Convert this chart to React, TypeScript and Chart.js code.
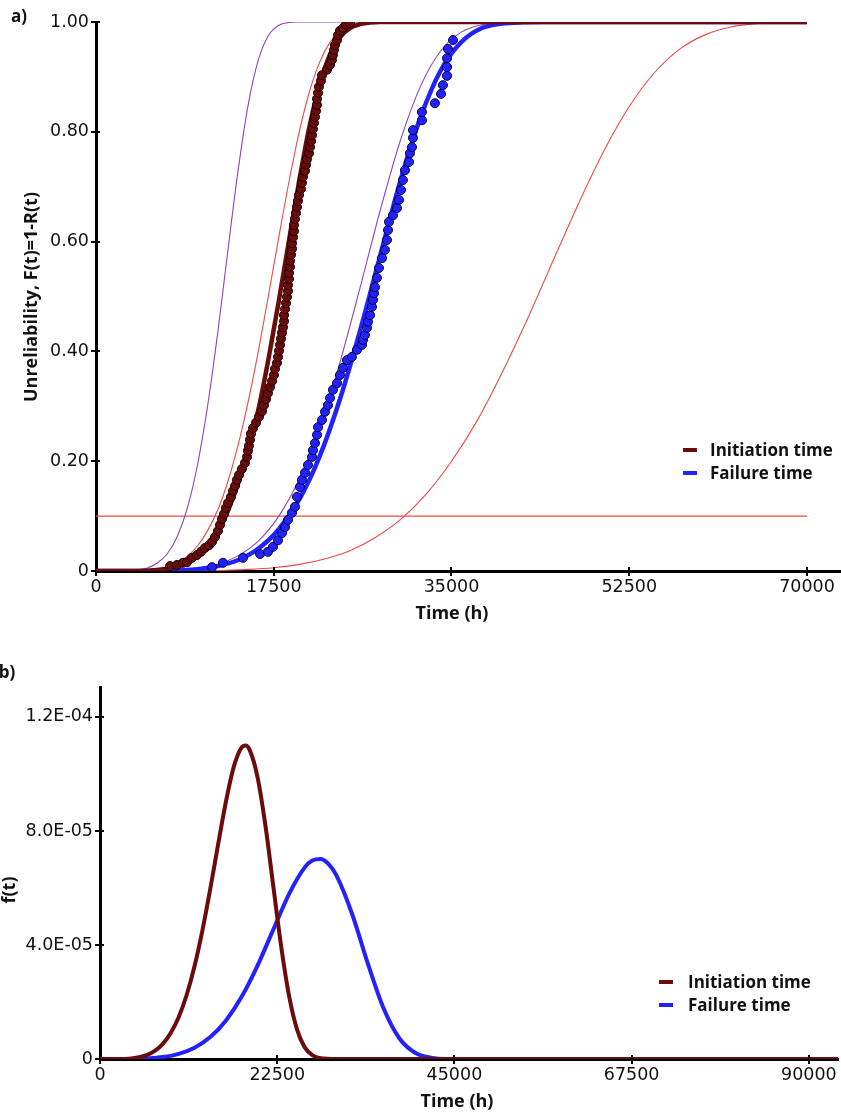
import React, { useEffect, useRef } from 'react';
import { Chart, registerables } from 'chart.js';

Chart.register(...registerables);

// ---------- Panel a) : unreliability F(t) ----------
const topXTicks = [0, 17500, 35000, 52500, 70000];
const topXTickLabels = ['0', '17500', '35000', '52500', '70000'];
const topYTicks = [0, 0.2, 0.4, 0.6, 0.8, 1.0];
const topYTickLabels = ['0', '0.20', '0.40', '0.60', '0.80', '1.00'];

// Initiation time — observed points
const initPtsT = [7290, 7970, 8570, 8960, 9450, 9940, 10340, 10730, 11130, 11420, 11720, 12010, 12210, 12410, 12600, 12800, 13000, 13290, 13490, 13690, 13880, 14080, 14370, 14670, 14870, 14960, 15060, 15160, 15260, 15460, 15750, 16050, 16340, 16540, 16740, 16930, 17130, 17330, 17520, 17620, 17820, 17920, 18020, 18120, 18210, 18310, 18410, 18510, 18510, 18610, 18710, 18800, 18900, 18900, 19000, 19000, 19100, 19100, 19200, 19300, 19300, 19400, 19490, 19490, 19590, 19690, 19790, 19890, 19990, 20180, 20280, 20380, 20580, 20680, 20770, 20970, 21070, 21170, 21270, 21360, 21460, 21560, 21660, 21760, 21760, 21860, 21950, 22150, 22250, 22740, 23040, 23230, 23330, 23430, 23530, 23730, 23830, 24020, 24320, 24610, 25010];
const initPtsF = [0.009, 0.011, 0.015, 0.016, 0.024, 0.029, 0.035, 0.042, 0.047, 0.053, 0.062, 0.073, 0.084, 0.095, 0.104, 0.115, 0.124, 0.135, 0.146, 0.155, 0.166, 0.175, 0.186, 0.197, 0.208, 0.219, 0.228, 0.239, 0.250, 0.260, 0.270, 0.281, 0.291, 0.302, 0.313, 0.324, 0.335, 0.346, 0.357, 0.368, 0.379, 0.390, 0.401, 0.412, 0.423, 0.434, 0.444, 0.455, 0.466, 0.477, 0.488, 0.499, 0.510, 0.521, 0.532, 0.543, 0.554, 0.565, 0.576, 0.587, 0.597, 0.608, 0.619, 0.630, 0.641, 0.652, 0.663, 0.674, 0.685, 0.696, 0.707, 0.718, 0.729, 0.740, 0.750, 0.761, 0.772, 0.783, 0.794, 0.805, 0.816, 0.827, 0.838, 0.849, 0.860, 0.871, 0.882, 0.893, 0.903, 0.913, 0.922, 0.931, 0.940, 0.949, 0.958, 0.967, 0.976, 0.984, 0.989, 0.995, 0.998];

// Failure time — observed points
const failPtsT = [11420, 12500, 14470, 16150, 16930, 17430, 17920, 18310, 18610, 18900, 19300, 19590, 19790, 20080, 20280, 20580, 20870, 21270, 21360, 21560, 21760, 21860, 22250, 22550, 22840, 23040, 23330, 23730, 24020, 24320, 24710, 25200, 25700, 26190, 26290, 26480, 26680, 26780, 26980, 27170, 27270, 27370, 27470, 27660, 27860, 28160, 28450, 28650, 28750, 28850, 29240, 29630, 29830, 30030, 30220, 30420, 30820, 30910, 31110, 31210, 31210, 32090, 32090, 33370, 33970, 34160, 34560, 34560, 34560, 34650, 35150];
const failPtsF = [0.007, 0.015, 0.024, 0.031, 0.035, 0.044, 0.056, 0.069, 0.080, 0.093, 0.106, 0.117, 0.135, 0.153, 0.166, 0.179, 0.193, 0.208, 0.220, 0.233, 0.248, 0.262, 0.275, 0.290, 0.302, 0.315, 0.330, 0.342, 0.357, 0.370, 0.384, 0.390, 0.403, 0.412, 0.421, 0.430, 0.443, 0.454, 0.466, 0.481, 0.494, 0.506, 0.517, 0.534, 0.552, 0.570, 0.585, 0.603, 0.621, 0.636, 0.648, 0.661, 0.676, 0.694, 0.712, 0.730, 0.745, 0.761, 0.772, 0.789, 0.803, 0.821, 0.836, 0.852, 0.869, 0.885, 0.902, 0.918, 0.934, 0.951, 0.967];

// Fitted CDF — initiation time
const initFitT = [0, 4000, 6000, 8000, 9000, 10000, 11000, 12000, 13000, 14000, 15000, 16000, 17000, 18000, 19000, 20000, 21000, 22000, 23000, 24000, 25000, 26000, 27000, 28000, 70000];
const initFitF = [0, 0, 0.002, 0.008, 0.015, 0.027, 0.045, 0.072, 0.110, 0.160, 0.222, 0.295, 0.388, 0.492, 0.602, 0.710, 0.808, 0.884, 0.939, 0.972, 0.989, 0.996, 0.999, 1, 1];

// Fitted CDF — failure time
const failFitT = [0, 6000, 8000, 10000, 12000, 14000, 16000, 18000, 20000, 22000, 24000, 26000, 28000, 30000, 32000, 34000, 36000, 38000, 40000, 42000, 44000, 70000];
const failFitF = [0, 0, 0.001, 0.003, 0.009, 0.020, 0.041, 0.076, 0.130, 0.208, 0.312, 0.438, 0.576, 0.713, 0.829, 0.914, 0.964, 0.989, 0.997, 0.9995, 1, 1];

// Thin bound curves
const purple1T = [0, 3000, 4000, 5000, 6000, 7000, 8000, 9000, 10000, 11000, 12000, 13000, 14000, 15000, 16000, 17000, 18000, 19000, 20000, 70000];
const purple1F = [0, 0, 0.002, 0.005, 0.014, 0.031, 0.063, 0.115, 0.194, 0.302, 0.436, 0.586, 0.731, 0.851, 0.932, 0.976, 0.994, 0.999, 1, 1];
const red1T = [0, 4000, 6000, 8000, 9000, 10000, 11000, 12000, 13000, 14000, 15000, 16000, 17000, 18000, 19000, 20000, 21000, 22000, 23000, 24000, 25000, 26000, 28000, 70000];
const red1F = [0, 0, 0.003, 0.015, 0.027, 0.046, 0.074, 0.112, 0.164, 0.230, 0.310, 0.402, 0.504, 0.608, 0.709, 0.799, 0.872, 0.926, 0.962, 0.983, 0.993, 0.998, 1, 1];
const purple2T = [0, 6000, 8000, 10000, 12000, 14000, 16000, 18000, 20000, 22000, 24000, 26000, 28000, 30000, 32000, 34000, 36000, 38000, 40000, 42000, 70000];
const purple2F = [0, 0, 0.001, 0.005, 0.012, 0.028, 0.055, 0.100, 0.167, 0.260, 0.379, 0.516, 0.658, 0.786, 0.885, 0.949, 0.982, 0.995, 0.999, 1, 1];
const red2T = [0, 10000, 15000, 17500, 20000, 22500, 25000, 27500, 30000, 32500, 35000, 37500, 40000, 42500, 45000, 47500, 50000, 52500, 55000, 57500, 60000, 62500, 65000, 70000];
const red2F = [0, 0, 0.003, 0.006, 0.012, 0.022, 0.037, 0.061, 0.094, 0.140, 0.200, 0.273, 0.362, 0.460, 0.565, 0.669, 0.765, 0.846, 0.908, 0.951, 0.977, 0.991, 0.997, 1];
const refLineT = [0, 70000];
const refLineF = [0.1, 0.1];

// ---------- Panel b) : pdf f(t) ----------
const botXTicks = [0, 22500, 45000, 67500, 90000];
const botXTickLabels = ['0', '22500', '45000', '67500', '90000'];
const botYTicks = [0, 4.0e-5, 8.0e-5, 1.2e-4];
const botYTickLabels = ['0', '4.0E-05', '8.0E-05', '1.2E-04'];

const pdfInitT = [0, 2000, 4000, 6000, 7000, 8000, 9000, 10000, 11000, 12000, 13000, 14000, 15000, 16000, 17000, 18000, 18500, 19000, 20000, 21000, 22000, 23000, 24000, 25000, 26000, 27000, 28000, 30000, 93700];
const pdfInitF = [0, 0, 2.2e-7, 1.45e-6, 2.93e-6, 5.39e-6, 9.2e-6, 1.475e-5, 2.245e-5, 3.254e-5, 4.506e-5, 5.966e-5, 7.535e-5, 9.042e-5, 1.0265e-4, 1.0939e-4, 1.0997e-4, 1.0845e-4, 9.89e-5, 8.195e-5, 6.07e-5, 3.958e-5, 2.22e-5, 1.05e-5, 4.08e-6, 1.27e-6, 3e-7, 0, 0];
const pdfFailT = [0, 4000, 6000, 8000, 10000, 12000, 14000, 16000, 18000, 20000, 22000, 24000, 26000, 27000, 28000, 29000, 30000, 32000, 34000, 36000, 38000, 40000, 42000, 44000, 93700];
const pdfFailF = [0, 3e-8, 1.9e-7, 6.7e-7, 1.78e-6, 3.94e-6, 7.68e-6, 1.354e-5, 2.19e-5, 3.278e-5, 4.539e-5, 5.787e-5, 6.723e-5, 6.97e-5, 7.017e-5, 6.845e-5, 6.45e-5, 5.097e-5, 3.355e-5, 1.779e-5, 7.28e-6, 2.19e-6, 4.6e-7, 0, 0];

const legendLabels = ['Initiation time', 'Failure time'];

// ---------- styles ----------
const MAROON = '#6b0c0c';
const BLUE = '#2222ff';
const THIN_RED = '#f04848';
const PURPLE = '#8c48b0';
const TICK_FONT = { family: '"DejaVu Sans", Verdana, sans-serif', size: 17.5 };
const TITLE_FONT = '"Open Sans", "Noto Sans", sans-serif';

const zip = (xs: number[], ys: number[]) => xs.map((x, i) => ({ x, y: ys[i] }));

// small inner tick marks so ticks cross the axis line, as in the original
const innerTicks = {
  id: 'innerTicks',
  afterDraw(chart: any) {
    const { ctx, chartArea } = chart;
    const xs = chart.scales.x;
    const ys = chart.scales.y;
    ctx.save();
    ctx.strokeStyle = '#000';
    ctx.lineWidth = 2;
    ctx.beginPath();
    xs.ticks.forEach((t: any) => {
      const px = Math.round(xs.getPixelForValue(t.value));
      if (px <= chartArea.left + 2) return;
      ctx.moveTo(px, chartArea.bottom);
      ctx.lineTo(px, chartArea.bottom - 4);
    });
    ys.ticks.forEach((t: any) => {
      const py = Math.round(ys.getPixelForValue(t.value));
      if (py >= chartArea.bottom - 2) return;
      ctx.moveTo(chartArea.left, py);
      ctx.lineTo(chartArea.left + 4, py);
    });
    ctx.stroke();
    ctx.restore();
  },
};

function makeAxis(opts: any) {
  const { min, max, ticks, labels, fitSize, horizontal } = opts;
  return {
    type: 'linear',
    min,
    max,
    afterBuildTicks: (s: any) => {
      s.ticks = ticks.map((v: number) => ({ value: v }));
    },
    afterFit: (s: any) => {
      if (horizontal) {
        s.height = fitSize;
        s.paddingLeft = 0;
        s.paddingRight = 0;
      } else {
        s.width = fitSize;
        s.paddingTop = 0;
        s.paddingBottom = 0;
      }
    },
    ticks: {
      font: TICK_FONT,
      color: '#111',
      padding: horizontal ? 1 : 2,
      autoSkip: false,
      maxRotation: 0,
      callback: (_v: any, i: number) => labels[i],
    },
    grid: {
      drawOnChartArea: false,
      drawTicks: true,
      tickLength: 5,
      color: '#000',
      lineWidth: 2,
    },
    border: { display: true, color: '#000', width: 3 },
  };
}

function lineDs(xs: number[], ys: number[], color: string, width: number, order: number) {
  return {
    data: zip(xs, ys),
    showLine: true,
    borderColor: color,
    backgroundColor: color,
    borderWidth: width,
    pointRadius: 0,
    cubicInterpolationMode: 'monotone',
    fill: false,
    order,
  };
}

function pointDs(xs: number[], ys: number[], fillColor: string, edge: string, order: number) {
  return {
    data: zip(xs, ys),
    showLine: false,
    pointRadius: 4.5,
    pointBackgroundColor: fillColor,
    pointBorderColor: edge,
    pointBorderWidth: 1,
    order,
  };
}

function ChartCanvas({ config, width, height }: { config: any; width: number; height: number }) {
  const ref = useRef<HTMLCanvasElement | null>(null);
  useEffect(() => {
    if (!ref.current) return;
    const chart = new Chart(ref.current, config);
    return () => chart.destroy();
  }, []);
  return <canvas ref={ref} width={width} height={height} style={{ display: 'block', width, height }} />;
}

const topConfig = {
  type: 'scatter',
  data: {
    datasets: [
      pointDs(initPtsT, initPtsF, MAROON, '#1a0000', 1),
      pointDs(failPtsT, failPtsF, BLUE, '#00003c', 2),
      lineDs(initFitT, initFitF, MAROON, 4.5, 3),
      lineDs(failFitT, failFitF, BLUE, 4.5, 4),
      lineDs(purple1T, purple1F, PURPLE, 1.1, 5),
      lineDs(red1T, red1F, THIN_RED, 1.1, 6),
      lineDs(purple2T, purple2F, PURPLE, 1.1, 7),
      lineDs(red2T, red2F, THIN_RED, 1.1, 8),
      lineDs(refLineT, refLineF, THIN_RED, 1.1, 9),
    ],
  },
  options: {
    responsive: false,
    animation: false,
    devicePixelRatio: 1,
    layout: { autoPadding: false, padding: { left: 0, top: 22, right: 0, bottom: 0 } },
    plugins: { legend: { display: false }, tooltip: { enabled: false } },
    scales: {
      x: makeAxis({ min: 0, max: 73350, ticks: topXTicks, labels: topXTickLabels, fitSize: 69, horizontal: true }),
      y: makeAxis({ min: 0, max: 1, ticks: topYTicks, labels: topYTickLabels, fitSize: 96, horizontal: false }),
    },
  },
  plugins: [innerTicks],
};

const botConfig = {
  type: 'scatter',
  data: {
    datasets: [
      lineDs(pdfInitT, pdfInitF, MAROON, 4, 1),
      lineDs(pdfFailT, pdfFailF, BLUE, 4, 2),
    ],
  },
  options: {
    responsive: false,
    animation: false,
    devicePixelRatio: 1,
    layout: { autoPadding: false, padding: { left: 0, top: 47, right: 3, bottom: 0 } },
    plugins: { legend: { display: false }, tooltip: { enabled: false } },
    scales: {
      x: makeAxis({ min: 0, max: 93700, ticks: botXTicks, labels: botXTickLabels, fitSize: 55, horizontal: true }),
      y: makeAxis({ min: 0, max: 1.305e-4, ticks: botYTicks, labels: botYTickLabels, fitSize: 100, horizontal: false }),
    },
  },
  plugins: [innerTicks],
};

function Label({ text, cx, cy, size, rotate }: { text: string; cx: number; cy: number; size: number; rotate?: boolean }) {
  return (
    <div
      style={{
        position: 'absolute',
        left: cx,
        top: cy,
        transform: `translate(-50%, -50%)${rotate ? ' rotate(-90deg)' : ''}`,
        fontFamily: TITLE_FONT,
        fontWeight: 700,
        fontSize: size,
        lineHeight: 1,
        whiteSpace: 'nowrap',
        color: '#111',
      }}
    >
      {text}
    </div>
  );
}

function Legend({ left, top, gap }: { left: number; top: number; gap: number }) {
  const colors = [MAROON, BLUE];
  return (
    <div style={{ position: 'absolute', left, top }}>
      {legendLabels.map((lbl, i) => (
        <div key={lbl} style={{ display: 'flex', alignItems: 'center', height: 23 }}>
          <span style={{ display: 'inline-block', width: 14, height: 4, background: colors[i] }} />
          <span
            style={{
              marginLeft: gap,
              fontFamily: TITLE_FONT,
              fontWeight: 700,
              fontSize: 17,
              lineHeight: 1,
              color: '#111',
            }}
          >
            {lbl}
          </span>
        </div>
      ))}
    </div>
  );
}

export default function App() {
  return (
    <div
      style={{
        position: 'absolute',
        left: 0,
        top: 0,
        width: 841,
        height: 1114,
        background: '#fff',
        overflow: 'hidden',
      }}
    >
      <div style={{ position: 'absolute', left: 0, top: 0 }}>
        <ChartCanvas config={topConfig} width={841} height={640} />
      </div>
      <div style={{ position: 'absolute', left: 0, top: 640 }}>
        <ChartCanvas config={botConfig} width={841} height={474} />
      </div>
      <Label text="a)" cx={19} cy={15} size={17} />
      <Label text="Unreliability, F(t)=1-R(t)" cx={30} cy={297} size={18} rotate />
      <Label text="Time (h)" cx={452} cy={612} size={18} />
      <Legend left={683} top={438} gap={13} />
      <Label text="b)" cx={7} cy={671} size={17} />
      <Label text="f(t)" cx={8} cy={890} size={18} rotate />
      <Label text="Time (h)" cx={457} cy={1100} size={18} />
      <Legend left={659} top={970} gap={15} />
    </div>
  );
}
